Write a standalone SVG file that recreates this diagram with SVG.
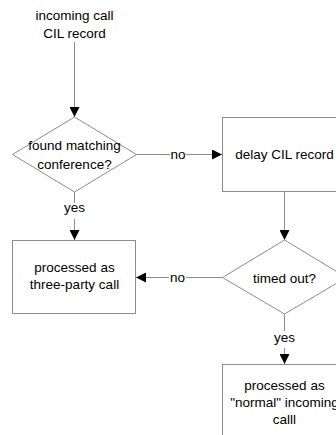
<svg xmlns="http://www.w3.org/2000/svg" width="336" height="435" viewBox="0 0 336 435">
  <defs>
    <marker id="arrow" viewBox="0 0 10 10" refX="10" refY="5" markerWidth="10" markerHeight="10" markerUnits="userSpaceOnUse" orient="auto">
      <path d="M0,0 L10,5 L0,10 Z" fill="#000"/>
    </marker>
    <style>
      .shape { fill: #fff; stroke: #8c8c8c; stroke-width: 1; }
      .link { fill: none; stroke: #8c8c8c; stroke-width: 1; }
      .arrow { marker-end: url(#arrow); }
      text { font-family: "Liberation Sans", Arial, sans-serif; font-size: 13.5px; fill: #000; text-anchor: middle; }
      .lbl { fill: #000; }
    </style>
  </defs>
  <rect width="336" height="435" fill="#fff"/>

  <!-- connectors -->
  <g id="connectors">
    <line class="link arrow" x1="74.5" y1="42" x2="74.5" y2="117"/>
    <line class="link" x1="74.5" y1="192" x2="74.5" y2="203"/>
    <line class="link arrow" x1="74.5" y1="219" x2="74.5" y2="240"/>
    <line class="link" x1="136" y1="154.5" x2="170" y2="154.5"/>
    <line class="link arrow" x1="186" y1="154.5" x2="222" y2="154.5"/>
    <line class="link arrow" x1="284.5" y1="192" x2="284.5" y2="240"/>
    <line class="link" x1="222" y1="277.5" x2="186" y2="277.5"/>
    <line class="link arrow" x1="169" y1="277.5" x2="136" y2="277.5"/>
    <line class="link" x1="284.5" y1="314" x2="284.5" y2="331"/>
    <line class="link arrow" x1="284.5" y1="348" x2="284.5" y2="364"/>
    <text x="178" y="158.5">no</text>
    <text x="74.5" y="212">yes</text>
    <text x="177.5" y="281.5">no</text>
    <text x="284.5" y="342">yes</text>
  </g>

  <g id="start">
    <text x="74.5" y="20">incoming call</text>
    <text x="74.5" y="38">CIL record</text>
  </g>

  <g id="found-matching">
    <polygon class="shape" points="74.5,117 136.5,154.5 74.5,192 12.5,154.5"/>
    <text x="74.5" y="150">found matching</text>
    <text x="74.5" y="169">conference?</text>
  </g>

  <g id="three-party">
    <rect class="shape" x="12.5" y="240.5" width="123" height="73"/>
    <text x="74.5" y="272">processed as</text>
    <text x="74.5" y="289">three-party call</text>
  </g>

  <g id="delay">
    <rect class="shape" x="222.5" y="117.5" width="124" height="74"/>
    <text x="284.5" y="159">delay CIL record</text>
  </g>

  <g id="timed-out">
    <polygon class="shape" points="284.5,240 346.5,277.5 284.5,314 222.5,277.5"/>
    <text x="284.5" y="282.5">timed out?</text>
  </g>

  <g id="normal-call">
    <rect class="shape" x="222.5" y="364.5" width="124" height="74"/>
    <text x="284.5" y="390">processed as</text>
    <text x="284.5" y="407">"normal" incoming</text>
    <text x="284.5" y="424">calll</text>
  </g>
</svg>
